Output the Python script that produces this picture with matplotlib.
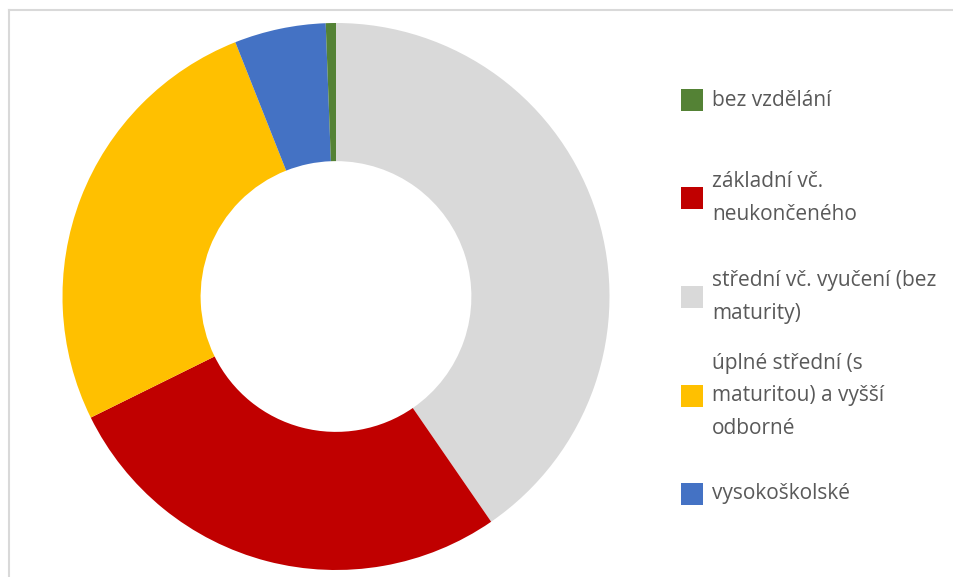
import textwrap
import matplotlib
matplotlib.use("Agg")
import matplotlib.pyplot as plt
from matplotlib.patches import Rectangle
from matplotlib.lines import Line2D

# Data (legend order)
categories = [
    "bez vzdělání",
    "základní vč. neukončeného",
    "střední vč. vyučení (bez maturity)",
    "úplné střední (s maturitou) a vyšší odborné",
    "vysokoškolské",
]
values = [0.6, 27.3, 40.4, 26.3, 5.4]
colors = ["#548235", "#C00000", "#D9D9D9", "#FFC000", "#4472C4"]

# Drawing order clockwise from 12 o'clock
draw_order = [2, 1, 3, 4, 0]

W, H = 954, 577
fig = plt.figure(figsize=(W / 100, H / 100), dpi=100)
fig.patch.set_facecolor("white")

# Donut axes: center (336, 296.5) px, outer radius 273.5 px
cx, cy, R = 336, 296.5, 273.5
ax = fig.add_axes([(cx - R) / W, (H - cy - R) / H, 2 * R / W, 2 * R / H])
ax.pie([values[i] for i in draw_order],
       colors=[colors[i] for i in draw_order],
       startangle=90, counterclock=False, radius=1.0,
       wedgeprops=dict(width=0.505, linewidth=0))
ax.set_xlim(-1, 1)
ax.set_ylim(-1, 1)
ax.set_aspect("equal")
ax.axis("off")

# Frame lines (top and left)
fig.add_artist(Line2D([9.5 / W, 1], [1 - 9.5 / H, 1 - 9.5 / H],
                      transform=fig.transFigure, color="#D9D9D9", lw=1.5))
fig.add_artist(Line2D([9.5 / W, 9.5 / W], [0, 1 - 9.5 / H],
                      transform=fig.transFigure, color="#D9D9D9", lw=1.5))

# Legend
legend_y = [100, 198, 297, 396, 494]
sq = 22
sq_x = 681
txt_x = 712
for cat, col, y in zip(categories, colors, legend_y):
    fig.add_artist(Rectangle((sq_x / W, (H - y - sq / 2) / H), sq / W, sq / H,
                             transform=fig.transFigure, facecolor=col,
                             edgecolor="none"))
    fig.text(txt_x / W, (H - y) / H, textwrap.fill(cat, 24),
             ha="left", va="center", fontsize=15, family="Open Sans",
             color="#595959", linespacing=1.75)

fig.savefig("out.png", dpi=100, facecolor="white")
